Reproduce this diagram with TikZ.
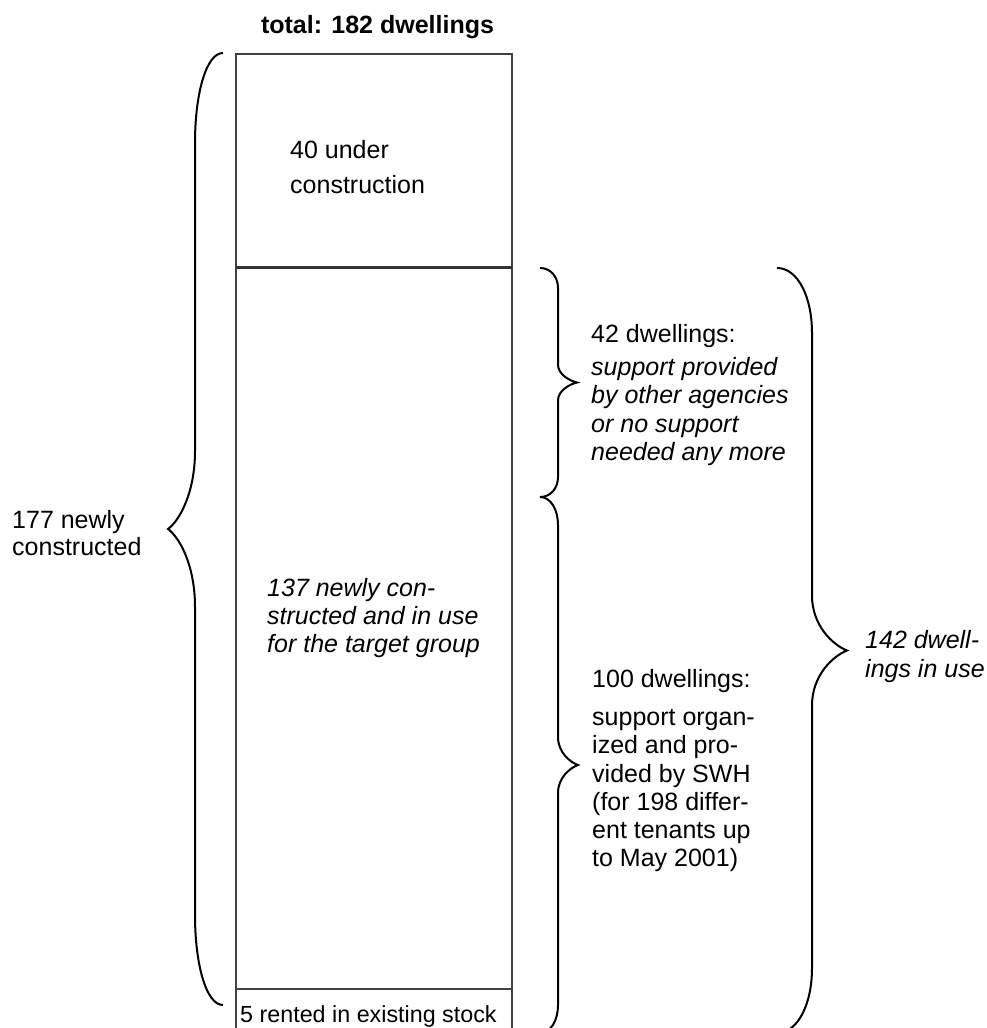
\documentclass[tikz,border=0pt]{standalone}
\usepackage{fontspec}
\setmainfont{Liberation Sans}
\newcommand{\drawvbrace}[7]{%
  \draw[bracestyle] (#1,#4) .. controls ({#1+0.6*(#2-#1)},#4) and (#2,{#4+0.45*#6}) .. (#2,{#4+#6})
   -- (#2,{(#4+#5)/2-#7}) .. controls (#2,{(#4+#5)/2-0.45*#7}) and ({#3-0.4*(#3-#2)},{(#4+#5)/2-0.1*#7}) .. (#3,{(#4+#5)/2})
   .. controls ({#3-0.4*(#3-#2)},{(#4+#5)/2+0.1*#7}) and (#2,{(#4+#5)/2+0.45*#7}) .. (#2,{(#4+#5)/2+#7})
   -- (#2,{#5-#6}) .. controls (#2,{#5-0.45*#6}) and ({#1+0.6*(#2-#1)},#5) .. (#1,#5);}
\begin{document}
\begin{tikzpicture}[x=1pt,y=-1pt,
  txt/.style={anchor=base west, inner sep=0pt, font=\fontsize{25}{30}\selectfont},
  itx/.style={anchor=base west, inner sep=0pt, font=\fontsize{25}{30}\selectfont\itshape},
  boxline/.style={draw=black!75, line width=1.2pt},
  divline/.style={draw=black!80, line width=3pt},
  bracestyle/.style={draw=black, line width=2pt}]
\useasboundingbox (0,0) rectangle (986,1028);
% column box
\draw[boxline] (236,1045) -- (236,54) -- (512,54) -- (512,1045);
\draw[divline] (236,267) -- (512,267);
\draw[boxline] (236,989) -- (512,989);
% braces
\drawvbrace{223}{195}{168}{53}{1005}{90}{78}
\drawvbrace{540}{558}{577}{268}{497}{20}{18}
\drawvbrace{540}{558}{578}{497}{1033}{28}{28}
\drawvbrace{777}{812}{847}{268}{1033}{65}{55}
% title
\node[anchor=base, inner sep=0pt, font=\fontsize{25}{30}\selectfont\bfseries] (title) at (377.5,33) {total: 182 dwellings};
% under construction
\node[txt] (u1) at (290,158) {40 under};
\node[txt] (u2) at (290,193) {construction};
% newly constructed
\node[txt] (n1) at (12,528) {177 newly};
\node[txt] (n2) at (12,555) {constructed};
% in use
\node[itx] (t1) at (267,596) {137 newly con-};
\node[itx] (t2) at (267,624) {structed and in use};
\node[itx] (t3) at (267,652) {for the target group};
% 42 dwellings
\node[txt] (a0) at (591,342) {42 dwellings:};
\node[itx] (a1) at (591,375) {support provided};
\node[itx] (a2) at (591,403) {by other agencies};
\node[itx] (a3) at (591,432) {or no support};
\node[itx] (a4) at (591,460) {needed any more};
% 100 dwellings
\node[txt] (b0) at (592,687) {100 dwellings:};
\node[txt] (b1) at (592,725) {support organ-};
\node[txt] (b2) at (592,753) {ized and pro-};
\node[txt] (b3) at (592,782) {vided by SWH};
\node[txt] (b4) at (592,810) {(for 198 differ-};
\node[txt] (b5) at (592,838) {ent tenants up};
\node[txt] (b6) at (592,866) {to May 2001)};
% 142 in use
\node[itx] (c1) at (865,648) {142 dwell-};
\node[itx] (c2) at (865,677) {ings in use};
% rented
\node[anchor=base west, inner sep=0pt, font=\fontsize{23.3}{28}\selectfont] (s) at (240,1022) {5 rented in existing stock};
\end{tikzpicture}
\end{document}
